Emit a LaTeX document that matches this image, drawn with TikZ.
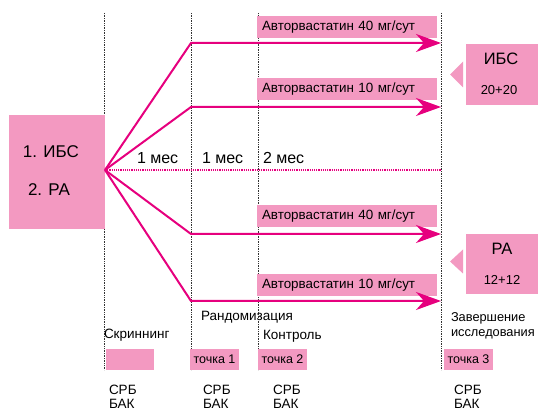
\documentclass[tikz,border=0pt]{standalone}
\usepackage{fontspec}
\setmainfont{Liberation Sans}
\usepackage{tikz}
\usetikzlibrary{arrows.meta,positioning,calc}
\usepackage{xcolor}
\definecolor{boxpink}{RGB}{243,153,193}
\definecolor{linemag}{RGB}{230,0,126}

\begin{document}
\begin{tikzpicture}[
  x=1pt, y=-1pt,
  every node/.style={inner sep=0pt, outer sep=0pt},
  pbox/.style={fill=boxpink, draw=none},
  drug/.style={pbox, anchor=west, minimum height=22pt, text width=170pt, inner xsep=5pt, align=left, font=\fontsize{13.4}{15}\selectfont},
  point/.style={pbox, anchor=west, minimum height=21pt, minimum width=49pt, font=\fontsize{12.5}{14}\selectfont},
  bigtxt/.style={font=\fontsize{17}{20}\selectfont},
  midtxt/.style={font=\fontsize{16}{19}\selectfont},
  lbl/.style={anchor=west, font=\fontsize{13.5}{14}\selectfont},
  arr/.style={draw=linemag, line width=2pt, -{Stealth[length=25pt, width=18pt, inset=8pt]}},
  grid/.style={densely dotted, line width=0.7pt, black!80}
]
\useasboundingbox (0,0) rectangle (538,411);

% Time lines
\foreach \xx in {104,191,258,441}
  \draw[grid] (\xx,13) -- (\xx,370);

% Patient groups
\node[pbox, minimum width=96pt, minimum height=114pt] (grp) at (57,172) {};
\node[bigtxt, anchor=west] (grp1) at (23,152) {1. ИБС};
\node[bigtxt, anchor=west] (grp2) at (28,190) {2. РА};
\coordinate (src) at (105,170);

% Drug labels
\node[drug] (d1) at (257,27) {Авторвастатин 40 мг/сут};
\node[drug] (d2) at (257,89) {Авторвастатин 10 мг/сут};
\node[drug] (d3) at (257,216) {Авторвастатин 40 мг/сут};
\node[drug] (d4) at (257,285) {Авторвастатин 10 мг/сут};

% Branch points and ends
\coordinate (b1) at (191,43);  \coordinate (e1) at (441,43);
\coordinate (b2) at (191,107); \coordinate (e2) at (441,107);
\coordinate (b3) at (191,234); \coordinate (e3) at (441,234);
\coordinate (b4) at (191,301); \coordinate (e4) at (441,301);
\coordinate (mid) at (441,170);

% Arrows
\draw[arr] (src) -- (b1) -- (e1);
\draw[arr] (src) -- (b2) -- (e2);
\draw[arr] (src) -- (b3) -- (e3);
\draw[arr] (src) -- (b4) -- (e4);
\draw[linemag, densely dotted, line width=1.2pt] (src) -- (mid);

% Periods
\node[midtxt, anchor=west] (m1) at (137,158) {1 мес};
\node[midtxt, anchor=west] (m2) at (202,158) {1 мес};
\node[midtxt, anchor=west] (m3) at (263,158) {2 мес};

% Results
\node[pbox, minimum width=72pt, minimum height=61pt] (ibs) at (502,74.5) {};
\fill[boxpink] ($(ibs.west)+(-3,-13)$) -- ($(ibs.west)+(-3,13)$) -- ($(ibs.west)+(-16,0)$) -- cycle;
\node[font=\fontsize{16.5}{18}\selectfont] (ibs1) at (501,59) {ИБС};
\node[font=\fontsize{13}{14}\selectfont] (ibs2) at (499,90) {20+20};
\node[pbox, minimum width=72pt, minimum height=60pt] (ra) at (502,264) {};
\fill[boxpink] ($(ra.west)+(-3,-14.5)$) -- ($(ra.west)+(-3,9.5)$) -- ($(ra.west)+(-16,-2.5)$) -- cycle;
\node[font=\fontsize{16.5}{18}\selectfont] (ra1) at (502,249) {РА};
\node[font=\fontsize{13}{14}\selectfont] (ra2) at (502,280) {12+12};

% Stages
\node[lbl] (scr) at (104,335) {Скриннинг};
\node[lbl] (rnd) at (201,317) {Рандомизация};
\node[lbl] (ctl) at (263,336) {Контроль};
\node[lbl, align=left, font=\fontsize{12.8}{14.5}\selectfont] (fin) at (451,326) {Завершение\\исследования};

% Check points
\node[pbox, anchor=west, minimum width=48pt, minimum height=21pt] (p0) at (106,359.5) {};
\node[point] (p1) at (190,359.5) {точка 1};
\node[point] (p2) at (258,359.5) {точка 2};
\node[point] (p3) at (444,359.5) {точка 3};

% Lab tests
\node[lbl, align=left] (t0) at (109,397) {СРБ\\БАК};
\node[lbl, align=left] (t1) at (203,397) {СРБ\\БАК};
\node[lbl, align=left] (t2) at (273,397) {СРБ\\БАК};
\node[lbl, align=left] (t3) at (454,397) {СРБ\\БАК};
\end{tikzpicture}
\end{document}
